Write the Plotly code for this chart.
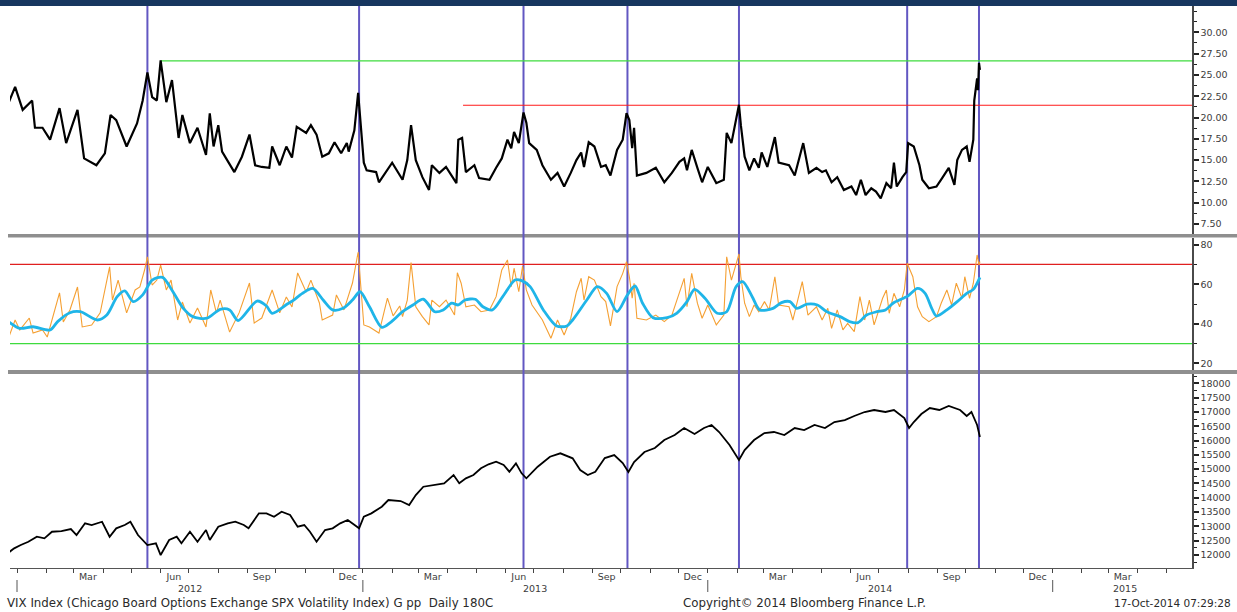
import plotly.graph_objects as go

# ---------------- data ----------------
vix_dates = ["2011-12-23","2011-12-30","2012-01-07","2012-01-17","2012-01-20","2012-01-28","2012-02-05","2012-02-15","2012-02-22",
"2012-03-05","2012-03-12","2012-03-25","2012-04-03","2012-04-09","2012-04-15","2012-04-26","2012-05-07","2012-05-13","2012-05-18",
"2012-05-23","2012-05-28","2012-06-01","2012-06-07","2012-06-13","2012-06-20","2012-06-24","2012-07-02","2012-07-10","2012-07-19",
"2012-07-23","2012-07-27","2012-08-01","2012-08-05","2012-08-18","2012-08-26","2012-09-03","2012-09-09","2012-09-16","2012-09-24",
"2012-09-27","2012-10-05","2012-10-12","2012-10-18","2012-10-23","2012-11-02","2012-11-07","2012-11-13","2012-11-19","2012-11-26",
"2012-12-02","2012-12-09","2012-12-15","2012-12-17","2012-12-23","2012-12-27","2013-01-02","2013-01-05","2013-01-15","2013-01-18",
"2013-01-29","2013-02-01","2013-02-12","2013-02-17","2013-02-21","2013-02-26","2013-03-05","2013-03-12","2013-03-15","2013-03-23",
"2013-03-30","2013-04-10","2013-04-12","2013-04-16","2013-04-20","2013-04-29","2013-05-04","2013-05-15","2013-05-22","2013-05-28",
"2013-06-03","2013-06-07","2013-06-10","2013-06-15","2013-06-20","2013-06-23","2013-06-26","2013-07-04","2013-07-10","2013-07-19",
"2013-07-26","2013-08-02","2013-08-09","2013-08-15","2013-08-20","2013-08-23","2013-08-28","2013-09-03","2013-09-10","2013-09-15",
"2013-09-20","2013-09-27","2013-10-03","2013-10-07","2013-10-10","2013-10-13","2013-10-15","2013-10-18","2013-10-28","2013-11-07",
"2013-11-16","2013-11-24","2013-12-02","2013-12-07","2013-12-10","2013-12-15","2013-12-21","2013-12-26","2014-01-01","2014-01-10",
"2014-01-18","2014-01-21","2014-01-26","2014-02-03","2014-02-05","2014-02-09","2014-02-14","2014-02-19","2014-02-24","2014-02-27",
"2014-03-05","2014-03-13","2014-03-17","2014-03-28","2014-04-03","2014-04-08","2014-04-12","2014-04-18","2014-04-26","2014-05-02",
"2014-05-06","2014-05-12","2014-05-18","2014-05-25","2014-06-02","2014-06-07","2014-06-12","2014-06-17","2014-06-23","2014-06-28",
"2014-07-03","2014-07-09","2014-07-14","2014-07-17","2014-07-20","2014-07-26","2014-07-30","2014-08-01","2014-08-07","2014-08-13",
"2014-08-16","2014-08-23","2014-08-31","2014-09-06","2014-09-13","2014-09-19","2014-09-22","2014-09-27","2014-10-02","2014-10-05",
"2014-10-09","2014-10-10","2014-10-13","2014-10-14","2014-10-15","2014-10-16"]
vix_values = [21.7,23.6,20.9,22.0,18.8,18.8,17.4,21.1,17.0,
20.9,15.2,14.4,15.8,20.3,19.7,16.6,19.3,22.0,25.3,
22.4,22.0,26.7,21.8,24.4,17.6,20.3,17.0,18.8,15.6,
20.5,16.6,19.1,16.0,13.6,15.4,18.0,14.4,14.2,14.1,
16.6,14.4,16.6,15.3,18.9,18.2,19.1,18.0,15.4,15.8,
17.1,15.8,17.0,16.0,18.5,22.9,14.7,13.8,13.6,12.4,
14.2,14.7,12.7,15.0,19.1,15.0,13.0,11.5,14.4,13.5,
14.2,12.3,17.4,17.6,13.6,14.4,12.9,12.7,14.1,15.2,
17.4,16.4,18.3,17.0,20.6,19.4,17.0,16.2,14.4,12.7,
13.5,11.9,13.5,15.0,15.9,14.2,17.1,16.6,14.2,14.4,
13.2,16.2,17.4,20.5,19.7,16.4,18.8,13.2,13.5,14.1,
12.4,13.5,14.8,15.2,13.8,16.2,14.1,12.4,14.2,12.3,
12.7,18.2,17.0,21.5,19.1,15.4,13.8,15.2,14.1,15.9,
14.2,17.7,14.7,14.4,13.2,15.4,17.0,13.5,14.1,13.6,
13.8,12.4,13.0,11.5,11.9,10.9,12.7,10.9,11.7,11.3,
10.5,12.3,11.7,14.7,11.9,13.0,13.6,17.0,16.6,14.4,
12.7,11.7,11.9,12.9,14.1,12.1,15.0,16.2,16.6,14.8,
17.4,22.0,24.6,23.2,26.4,25.6]

rsi_dates = ["2011-12-23","2011-12-30","2012-01-04","2012-01-14","2012-01-18","2012-01-28","2012-02-02","2012-02-10","2012-02-15",
"2012-02-19","2012-02-26","2012-03-05","2012-03-10","2012-03-20","2012-03-29","2012-04-08","2012-04-11","2012-04-17","2012-04-26",
"2012-05-05","2012-05-10","2012-05-15","2012-05-18","2012-05-23","2012-05-28","2012-06-01","2012-06-07","2012-06-12","2012-06-19",
"2012-06-24","2012-07-02","2012-07-10","2012-07-19","2012-07-24","2012-07-30","2012-08-03","2012-08-13","2012-08-23","2012-09-03",
"2012-09-08","2012-09-16","2012-09-27","2012-10-05","2012-10-12","2012-10-18","2012-10-24","2012-11-02","2012-11-07","2012-11-16",
"2012-11-19","2012-11-30","2012-12-04","2012-12-12","2012-12-21","2012-12-27","2013-01-02","2013-01-08","2013-01-18","2013-01-27",
"2013-02-02","2013-02-09","2013-02-12","2013-02-17","2013-02-21","2013-02-26","2013-03-05","2013-03-12","2013-03-15","2013-03-23",
"2013-03-30","2013-04-08","2013-04-11","2013-04-15","2013-04-20","2013-04-29","2013-05-06","2013-05-15","2013-05-22","2013-05-28",
"2013-06-03","2013-06-07","2013-06-10","2013-06-15","2013-06-19","2013-06-23","2013-06-29","2013-07-10","2013-07-19","2013-07-26",
"2013-08-02","2013-08-09","2013-08-15","2013-08-20","2013-08-23","2013-08-28","2013-09-03","2013-09-10","2013-09-15","2013-09-20",
"2013-09-27","2013-10-03","2013-10-07","2013-10-10","2013-10-13","2013-10-15","2013-10-18","2013-10-28","2013-11-07","2013-11-16",
"2013-11-24","2013-12-02","2013-12-07","2013-12-10","2013-12-15","2013-12-21","2013-12-26","2014-01-01","2014-01-10","2014-01-18",
"2014-01-21","2014-01-26","2014-02-03","2014-02-05","2014-02-09","2014-02-14","2014-02-19","2014-02-24","2014-03-02","2014-03-07",
"2014-03-13","2014-03-17","2014-03-28","2014-04-01","2014-04-06","2014-04-11","2014-04-17","2014-04-26","2014-05-02","2014-05-08",
"2014-05-12","2014-05-18","2014-05-24","2014-05-29","2014-06-05","2014-06-11","2014-06-16","2014-06-21","2014-06-26","2014-07-02",
"2014-07-05","2014-07-09","2014-07-12","2014-07-17","2014-07-23","2014-07-28","2014-07-31","2014-08-06","2014-08-11","2014-08-16",
"2014-08-23","2014-08-31","2014-09-05","2014-09-11","2014-09-16","2014-09-21","2014-09-27","2014-09-30","2014-10-05","2014-10-09",
"2014-10-13","2014-10-15","2014-10-16"]
rsi_values = [32.8,41.9,36.9,42.9,35.3,36.9,33.3,47.0,55.6,
40.9,47.0,58.6,38.4,39.4,45.5,68.8,52.0,62.1,45.5,
57.1,58.6,67.2,73.8,59.6,62.1,69.7,57.1,62.1,41.9,
51.0,40.4,48.0,38.4,57.1,45.5,52.0,35.8,45.5,60.6,
40.4,42.9,57.1,45.5,53.5,48.5,65.7,56.1,62.1,50.5,
41.9,44.4,54.6,47.0,60.6,76.3,39.4,38.4,35.3,53.0,
44.0,49.0,43.6,52.0,70.9,48.6,43.6,39.4,52.0,48.6,
52.0,44.4,65.8,60.5,48.6,49.5,46.1,47.0,53.7,67.2,
72.3,58.8,68.1,56.2,69.2,57.1,49.5,41.9,32.7,41.9,
34.3,42.8,56.2,63.0,52.0,63.8,62.1,53.7,51.2,38.9,
58.8,65.5,71.4,63.8,52.9,60.5,42.8,41.9,44.4,41.1,
44.4,55.4,63.0,48.6,65.5,50.4,42.8,49.5,39.4,44.4,
73.9,62.1,75.3,63.8,50.4,43.6,49.5,46.1,51.2,47.0,
63.8,49.5,48.6,41.9,51.2,61.3,44.4,48.6,41.9,47.8,
37.7,47.0,36.9,40.2,36.0,53.7,41.9,52.0,39.4,47.8,
52.9,57.1,45.3,55.4,48.6,57.1,70.6,63.8,48.6,43.6,
41.1,43.6,50.4,57.1,49.5,60.5,52.9,63.8,52.9,60.5,
74.8,69.7,71.4]

ma_dates = ["2011-12-23","2012-01-04","2012-01-18","2012-02-05","2012-02-13","2012-02-26","2012-03-08","2012-03-26","2012-04-05",
"2012-04-16","2012-04-24","2012-05-03","2012-05-13","2012-05-23","2012-06-03","2012-06-14","2012-06-25","2012-07-05","2012-07-20",
"2012-08-03","2012-08-13","2012-08-22","2012-09-11","2012-09-21","2012-09-27","2012-10-13","2012-10-19","2012-10-29","2012-11-09",
"2012-11-20","2012-11-30","2012-12-11","2012-12-21","2012-12-29","2013-01-08","2013-01-21","2013-01-30","2013-02-12","2013-02-23",
"2013-03-06","2013-03-18","2013-03-27","2013-04-05","2013-04-12","2013-04-19","2013-04-30","2013-05-08","2013-05-18","2013-05-29",
"2013-06-11","2013-06-18","2013-06-27","2013-07-11","2013-07-25","2013-08-05","2013-08-11","2013-08-26","2013-09-06","2013-09-16",
"2013-09-27","2013-10-08","2013-10-16","2013-10-24","2013-11-04","2013-11-19","2013-11-29","2013-12-10","2013-12-18","2013-12-29",
"2014-01-11","2014-01-21","2014-01-31","2014-02-07","2014-02-17","2014-02-25","2014-03-11","2014-03-20","2014-03-29","2014-04-05",
"2014-04-16","2014-04-27","2014-05-07","2014-05-21","2014-05-31","2014-06-09","2014-06-18","2014-06-29","2014-07-08","2014-07-16",
"2014-07-27","2014-08-01","2014-08-11","2014-08-19","2014-08-26","2014-08-31","2014-09-11","2014-09-22","2014-10-02","2014-10-09",
"2014-10-16"]
ma_values = [41.1,37.7,38.5,36.9,41.1,45.6,46.1,41.9,44.4,
53.7,56.6,51.2,54.6,62.1,63.5,56.2,47.8,43.6,42.8,
47.3,47.0,41.6,51.5,49.0,45.3,50.0,51.7,55.4,57.9,
52.0,47.0,47.8,52.0,56.2,48.6,38.2,40.6,46.1,49.5,
52.4,46.1,47.0,50.4,49.5,52.0,52.4,48.6,47.0,53.7,
62.1,61.8,58.8,47.0,38.9,38.9,41.9,52.0,58.8,55.4,
46.1,54.6,59.1,50.4,43.1,43.1,45.3,51.2,57.4,52.9,
45.3,46.1,58.8,61.3,53.7,47.0,47.8,50.7,51.2,47.8,
49.9,49.5,46.1,43.6,41.1,40.6,44.4,46.1,47.0,50.4,
52.9,54.1,57.9,55.4,47.8,43.9,47.0,51.2,55.4,57.4,
63.5]

dow_dates = ["2011-12-22","2011-12-29","2012-01-05","2012-01-13","2012-01-22","2012-01-30","2012-02-07","2012-02-17","2012-02-27",
"2012-03-04","2012-03-13","2012-03-20","2012-03-31","2012-04-08","2012-04-15","2012-04-24","2012-04-30","2012-05-08","2012-05-18",
"2012-05-27","2012-06-01","2012-06-10","2012-06-18","2012-06-23","2012-07-02","2012-07-10","2012-07-19","2012-07-23","2012-08-01",
"2012-08-11","2012-08-19","2012-08-28","2012-09-02","2012-09-13","2012-09-21","2012-09-29","2012-10-07","2012-10-16","2012-10-24",
"2012-10-31","2012-11-06","2012-11-13","2012-11-22","2012-11-30","2012-12-08","2012-12-16","2012-12-28","2013-01-02","2013-01-10",
"2013-01-21","2013-01-28","2013-02-10","2013-02-19","2013-02-26","2013-03-06","2013-03-18","2013-03-28","2013-04-07","2013-04-13",
"2013-04-20","2013-04-28","2013-05-06","2013-05-14","2013-05-22","2013-05-30","2013-06-05","2013-06-12","2013-06-18","2013-06-23",
"2013-07-05","2013-07-18","2013-07-29","2013-08-11","2013-08-19","2013-08-27","2013-09-04","2013-09-14","2013-09-24","2013-10-03",
"2013-10-09","2013-10-15","2013-10-26","2013-11-06","2013-11-16","2013-11-27","2013-12-07","2013-12-18","2013-12-28","2014-01-05",
"2014-01-13","2014-01-24","2014-02-03","2014-02-09","2014-02-19","2014-03-02","2014-03-12","2014-03-23","2014-04-03","2014-04-13",
"2014-04-24","2014-05-05","2014-05-15","2014-05-26","2014-06-05","2014-06-16","2014-06-26","2014-07-08","2014-07-17","2014-07-28",
"2014-08-02","2014-08-07","2014-08-15","2014-08-24","2014-09-03","2014-09-13","2014-09-25","2014-10-02","2014-10-07","2014-10-13",
"2014-10-16"]
dow_values = [12058,12233,12349,12464,12639,12583,12813,12838,12908,
12698,13107,13048,13163,12639,12932,13048,13163,12698,12349,
12408,11999,12523,12639,12408,12813,12464,12873,12523,12988,
13107,13163,13048,12932,13456,13456,13338,13512,13397,12988,
13048,12813,12464,12873,12932,13107,13222,12932,13338,13456,
13687,13921,13886,13747,14096,14386,14446,14505,14795,14505,
14680,14795,15029,15169,15260,15145,14910,15204,14854,14680,
15085,15435,15553,15379,14970,14795,14910,15389,15494,15214,
14900,15249,15599,15739,16018,16193,16438,16228,16438,16543,
16298,15844,15319,15669,16018,16263,16298,16193,16438,16368,
16543,16438,16647,16717,16857,16997,17067,16997,17067,16787,
16438,16647,16927,17137,17067,17207,17067,16857,16997,16543,
16123]

event_dates = ["2012-05-18", "2012-12-28", "2013-06-20", "2013-10-08", "2014-02-03", "2014-07-31", "2014-10-15"]

vix_high_level = 26.66
vix_high_start = "2012-06-01"
vix_mid_level = 21.44
vix_mid_start = "2013-04-17"
rsi_upper = 70
rsi_lower = 30

month_tick_dates = ["2012-03-16","2012-06-15","2012-09-16","2012-12-16","2013-03-16","2013-06-15","2013-09-16",
                    "2013-12-16","2014-03-16","2014-06-15","2014-09-16","2014-12-16","2015-03-16"]
month_tick_text = ["Mar","Jun","Sep","Dec","Mar","Jun","Sep","Dec","Mar","Jun","Sep","Dec","Mar"]
year_labels = ["2012", "2013", "2014", "2015"]
year_label_dates = ["2012-07-02", "2013-07-02", "2014-07-02", "2015-03-18"]
year_starts = ["2012-01-01", "2013-01-01", "2014-01-01", "2015-01-01"]

vix_ticks = [7.5, 10, 12.5, 15, 17.5, 20, 22.5, 25, 27.5, 30]
rsi_ticks = [20, 40, 60, 80]
dow_ticks = list(range(12000, 18001, 500))

footer_left = "VIX Index (Chicago Board Options Exchange SPX Volatility Index) G pp  Daily 180C"
footer_mid = "Copyright\u00a9 2014 Bloomberg Finance L.P."
footer_right = "17-Oct-2014 07:29:28"

# ---------------- figure ----------------
X_RANGE = ["2011-12-24 14:00", "2015-05-28 10:00"]
FONT = "DejaVu Sans"
TICKC = "#3c3c3c"
AXC = "#4a4a4a"

fig = go.Figure()
fig.add_trace(go.Scatter(x=vix_dates, y=vix_values, mode="lines", yaxis="y",
                         line=dict(color="#000000", width=2.2), showlegend=False))
fig.add_trace(go.Scatter(x=rsi_dates, y=rsi_values, mode="lines", yaxis="y2",
                         line=dict(color="#F5A033", width=1.1), showlegend=False))
fig.add_trace(go.Scatter(x=ma_dates, y=ma_values, mode="lines", yaxis="y2", line_shape="spline",
                         line=dict(color="#1FB5E8", width=2.8, smoothing=0.8), showlegend=False))
fig.add_trace(go.Scatter(x=dow_dates, y=dow_values, mode="lines", yaxis="y3",
                         line=dict(color="#000000", width=1.8), showlegend=False))

H = 562.0
def py(px):
    return (568.0 - px) / H

def yax(domain, rng, ticks, fmt, minor_dtick):
    return dict(domain=domain, range=rng, side="right", anchor="x", showgrid=False, zeroline=False,
                showline=True, linecolor=AXC, linewidth=1.5, ticks="outside", ticklen=5, tickwidth=2,
                tickcolor="#222", tickvals=ticks, ticktext=[fmt(t) for t in ticks],
                tickfont=dict(family=FONT, size=9.5, color=TICKC),
                minor=dict(ticks="outside", ticklen=3, tickwidth=1, tickcolor="#222", dtick=minor_dtick,
                           tick0=ticks[0], showgrid=False),
                fixedrange=True)

shapes = []
# panel separators
for a, b in [(234, 237.5), (370, 374)]:
    shapes.append(dict(type="rect", xref="paper", yref="paper", x0=-2 / 1182, x1=1227 / 1182,
                       y0=py(b), y1=py(a), fillcolor="#8f8f8f", line=dict(width=0), layer="below"))
# top navy bar
shapes.append(dict(type="rect", xref="paper", yref="paper", x0=-10 / 1182, x1=1227 / 1182,
                   y0=py(6), y1=py(0), fillcolor="#17365F", line=dict(width=0), layer="above"))
# event lines
for d in event_dates:
    shapes.append(dict(type="line", xref="x", yref="paper", x0=d, x1=d, y0=0, y1=1,
                       line=dict(color="#6257C2", width=2), layer="below"))
# level lines
shapes.append(dict(type="line", xref="x", yref="y", x0=vix_high_start, x1=X_RANGE[1], y0=vix_high_level,
                   y1=vix_high_level, line=dict(color="#3EDB3E", width=1.2), layer="below"))
shapes.append(dict(type="line", xref="x", yref="y", x0=vix_mid_start, x1=X_RANGE[1], y0=vix_mid_level,
                   y1=vix_mid_level, line=dict(color="#FF1A1A", width=1.2), layer="below"))
shapes.append(dict(type="line", xref="x", yref="y2", x0=X_RANGE[0], x1=X_RANGE[1], y0=rsi_upper,
                   y1=rsi_upper, line=dict(color="#E02020", width=1.2), layer="below"))
shapes.append(dict(type="line", xref="x", yref="y2", x0=X_RANGE[0], x1=X_RANGE[1], y0=rsi_lower,
                   y1=rsi_lower, line=dict(color="#3EDB3E", width=1.2), layer="below"))
# year separators under the axis
for d in year_starts:
    shapes.append(dict(type="line", xref="x", yref="paper", x0=d, x1=d, y0=py(592), y1=py(580),
                       line=dict(color="#555555", width=1), layer="above"))

annotations = []
for t, d in zip(year_labels, year_label_dates):
    annotations.append(dict(x=d, y=py(588), xref="x", yref="paper", text=t, showarrow=False,
                            font=dict(family=FONT, size=9.5, color=TICKC), xanchor="center", yanchor="middle"))
annotations.append(dict(x=-5 / 1182, y=py(603), xref="paper", yref="paper", text=footer_left, showarrow=False,
                        font=dict(family=FONT, size=11.8, color="#2a2a2a"), xanchor="left", yanchor="middle"))
annotations.append(dict(x=671 / 1182, y=py(603), xref="paper", yref="paper", text=footer_mid, showarrow=False,
                        font=dict(family=FONT, size=11.8, color="#2a2a2a"), xanchor="left", yanchor="middle"))
annotations.append(dict(x=1223 / 1182, y=py(603), xref="paper", yref="paper", text=footer_right, showarrow=False,
                        font=dict(family=FONT, size=10.5, color="#2a2a2a"), xanchor="right", yanchor="middle"))

fig.update_layout(
    width=1237, height=612,
    margin=dict(l=10, r=45, t=6, b=44, pad=0),
    paper_bgcolor="#ffffff", plot_bgcolor="rgba(0,0,0,0)",
    font=dict(family=FONT, size=9.5, color=TICKC),
    showlegend=False,
    xaxis=dict(type="date", range=X_RANGE, domain=[0, 1], anchor="y3", showgrid=False, zeroline=False,
               showline=True, linecolor="#555555", linewidth=1, ticks="",
               tickvals=month_tick_dates, ticktext=month_tick_text,
               tickfont=dict(family=FONT, size=9.5, color=TICKC),
               minor=dict(ticks="outside", ticklen=4, tickwidth=1, tickcolor="#444444",
                          dtick="M1", tick0="2012-01-01", showgrid=False),
               fixedrange=True),
    yaxis=yax([py(234), 1.0], [6.33, 33.09], vix_ticks, lambda t: f"{t:.2f}", 1.25),
    yaxis2=yax([py(370), py(237.5)], [16.61, 83.64], rsi_ticks, lambda t: f"{t:d}", 10),
    yaxis3=yax([0.0, py(374)], [11546, 18325], dow_ticks, lambda t: f"{t:d}", 250),
    shapes=shapes,
    annotations=annotations,
)

fig.write_html("out.html",
               config={"displayModeBar": False, "staticPlot": True},
               post_script="document.body.style.margin='0px';document.body.style.padding='0px';"
                           "document.documentElement.style.overflow='hidden';")
